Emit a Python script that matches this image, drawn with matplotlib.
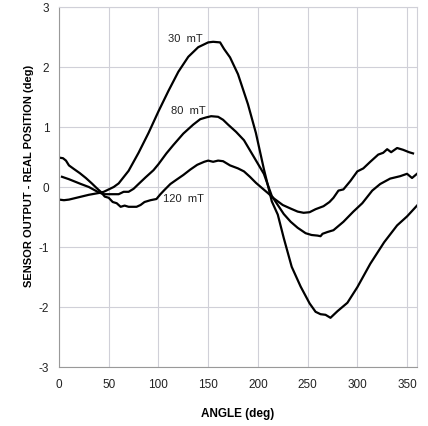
import matplotlib
matplotlib.use("Agg")
import matplotlib.pyplot as plt

plt.rcParams['font.family'] = ['Liberation Sans', 'DejaVu Sans']
plt.rcParams['axes.unicode_minus'] = False

# 30 mT
ang_30 = [0, 5, 10, 20, 30, 40, 45, 50, 55, 60, 70, 80, 90, 100, 110, 120, 130, 140,
          150, 155, 162, 166, 172, 180, 190, 198, 206, 214, 220, 226, 234, 243, 252,
          258, 263, 268, 273, 280, 290, 300, 313, 327, 340, 350, 360]
err_30 = [-0.21, -0.22, -0.21, -0.17, -0.13, -0.10, -0.08, -0.04, 0.0, 0.06, 0.27, 0.57,
          0.90, 1.26, 1.60, 1.92, 2.17, 2.33, 2.41, 2.42, 2.41, 2.30, 2.16, 1.88, 1.38,
          0.90, 0.30, -0.24, -0.46, -0.85, -1.33, -1.66, -1.94, -2.08, -2.12, -2.13,
          -2.18, -2.07, -1.93, -1.67, -1.28, -0.92, -0.64, -0.49, -0.31]

# 80 mT
ang_80 = [3, 10, 16, 22, 30, 40, 45, 53, 60, 65, 70, 75, 80, 87, 95, 100, 108, 115, 125,
          135, 142, 148, 153, 160, 165, 170, 178, 186, 196, 206, 214, 220, 226, 233, 240,
          248, 254, 260, 263, 265, 270, 276, 286, 296, 305, 315, 323, 333, 343, 350, 355, 360]
err_80 = [0.17, 0.13, 0.09, 0.05, 0.0, -0.09, -0.12, -0.12, -0.12, -0.08, -0.08, -0.03,
          0.05, 0.16, 0.28, 0.38, 0.56, 0.70, 0.89, 1.04, 1.13, 1.16, 1.18, 1.17, 1.12,
          1.04, 0.92, 0.78, 0.50, 0.22, -0.15, -0.30, -0.45, -0.58, -0.68, -0.77, -0.80,
          -0.81, -0.82, -0.78, -0.75, -0.72, -0.58, -0.41, -0.27, -0.06, 0.05, 0.14, 0.18,
          0.22, 0.15, 0.22]

# 120 mT
ang_120 = [0, 4, 7, 10, 15, 21, 27, 33, 38, 42, 46, 50, 54, 58, 62, 66, 70, 78, 82, 86,
           92, 98, 102, 106, 112, 118, 125, 132, 139, 146, 150, 155, 160, 165, 172, 180,
           186, 192, 198, 205, 210, 216, 225, 233, 240, 246, 252, 258, 266, 272, 276, 281,
           286, 293, 300, 306, 313, 321, 326, 330, 334, 340, 346, 352, 356]
err_120 = [0.49, 0.48, 0.44, 0.36, 0.30, 0.23, 0.15, 0.06, -0.02, -0.08, -0.16, -0.18,
           -0.25, -0.27, -0.33, -0.31, -0.33, -0.33, -0.30, -0.25, -0.22, -0.20, -0.12,
           -0.05, 0.05, 0.12, 0.20, 0.29, 0.37, 0.42, 0.44, 0.42, 0.44, 0.43, 0.36, 0.31,
           0.26, 0.17, 0.07, -0.03, -0.10, -0.19, -0.30, -0.36, -0.41, -0.43, -0.42, -0.37,
           -0.32, -0.25, -0.18, -0.06, -0.04, 0.10, 0.26, 0.31, 0.42, 0.54, 0.57, 0.63,
           0.58, 0.65, 0.62, 0.58, 0.56]

fig = plt.figure(figsize=(4.28, 4.26), dpi=100)
ax = fig.add_axes([59 / 428, 1 - 367 / 426, 358 / 428, 360 / 426])

for a, e in [(ang_30, err_30), (ang_80, err_80), (ang_120, err_120)]:
    ax.plot(a, e, color="black", lw=1.6)

ax.text(127, 2.47, "30  mT", fontsize=8, ha="center", va="center", color="#222222")
ax.text(130, 1.27, "80  mT", fontsize=8, ha="center", va="center", color="#222222")
ax.text(125, -0.2, "120  mT", fontsize=8, ha="center", va="center", color="#222222")

ax.set_xlim(0, 360)
ax.set_ylim(-3, 3)
ax.set_xticks(range(0, 351, 50))
ax.set_yticks(range(-3, 4))
ax.grid(True, color="#d0d0d8", lw=0.8)
ax.set_axisbelow(True)
ax.tick_params(length=0, labelsize=8.5, labelcolor="#222222")
ax.tick_params(axis="x", pad=9)
ax.tick_params(axis="y", pad=7)
for s in ["top", "right"]:
    ax.spines[s].set_color("#d0d0d8")
for s in ["left", "bottom"]:
    ax.spines[s].set_color("#999999")

ax.set_xlabel("ANGLE (deg)", fontsize=8.5, fontweight="bold", labelpad=12)
ax.set_ylabel("SENSOR OUTPUT - REAL POSITION (deg)", fontsize=8, fontweight="bold")
ax.yaxis.set_label_coords(-0.07, 0.53)

fig.savefig("out.png", dpi=100)
